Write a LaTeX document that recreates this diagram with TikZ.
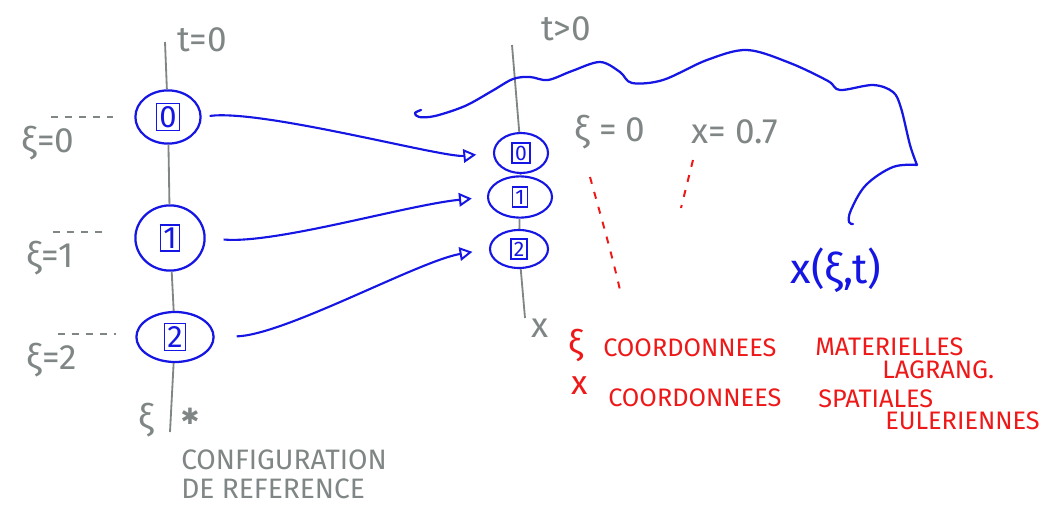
\documentclass[tikz,border=0pt]{standalone}
\usepackage{fontspec}
\setmainfont{Fira Sans}
\newfontfamily\symfont{DejaVu Sans}
\usetikzlibrary{arrows.meta,positioning,shapes.geometric}
\definecolor{SkGray}{RGB}{128,134,134}
\definecolor{SkBlue}{RGB}{22,22,228}
\definecolor{SkRed}{RGB}{238,24,24}
\setlength{\fboxsep}{1.5pt}
\setlength{\fboxrule}{1.2pt}

\begin{document}
\begin{tikzpicture}[x=0.025cm,y=-0.025cm,
    part/.style={ellipse,draw=SkBlue,line width=1.6pt,inner sep=0pt,
                 text=SkBlue,font=\fontsize{22}{22}\selectfont},
    partR/.style={part,line width=1.5pt,font=\fontsize{15}{15}\selectfont},
    axis/.style={draw=SkGray,line width=1.3pt},
    grayt/.style={text=SkGray,font=\fontsize{25}{27}\selectfont,inner sep=0pt},
    redt/.style={text=SkRed,font=\fontsize{18}{20}\selectfont,inner sep=0pt},
    leader/.style={draw=SkGray,line width=1.2pt,dash pattern=on 5pt off 5pt},
    guide/.style={draw=SkRed,line width=1.4pt,dash pattern=on 5pt off 6pt},
    move/.style={draw=SkBlue,line width=1.5pt,
                 -{Triangle[open,length=3.2mm,width=3.4mm,line width=1.4pt]}}]
  \useasboundingbox (0,0) rectangle (1046,506);

  % reference configuration, t=0
  \node[part,minimum width=1.63cm,minimum height=1.33cm] (l0) at (168,117) {\fbox{0}};
  \node[part,minimum width=1.73cm,minimum height=1.63cm] (l1) at (170,238) {\fbox{1}};
  \node[part,minimum width=1.93cm,minimum height=1.25cm] (l2) at (175,337) {\fbox{2}};
  \coordinate (lTop) at (165,42);
  \coordinate (lBot) at (170,432);
  \draw[axis] (lTop) -- (l0) -- (l1) -- (l2) -- (lBot);

  \node[grayt] (t0)  at (202,40)  {t=0};
  \node[grayt] (xi0) at (48,143)  {ξ=0};
  \node[grayt] (xi1) at (50,258)  {ξ=1};
  \node[grayt] (xi2) at (52,360)  {ξ=2};
  \draw[leader] ([xshift=2pt,yshift=6pt]xi0.north) -- ++(62,0);
  \draw[leader] ([xshift=2pt,yshift=6pt]xi1.north) -- ++(55,0);
  \draw[leader] ([xshift=4pt,yshift=6pt]xi2.north) -- ++(58,0);
  \node[grayt] (xiS)  at (146,420) {ξ};
  \node[grayt,font=\symfont\fontsize{16}{16}\selectfont] (star) at (190,416) {✱};
  \node[grayt,anchor=base west,align=left,font=\fontsize{20}{20}\selectfont]
    (conf) at (181,498) {CONFIGURATION\\DE REFERENCE};

  % current configuration, t>0
  \node[partR,minimum width=1.35cm,minimum height=1.0cm]  (r0) at (521,153) {\fbox{0}};
  \node[partR,minimum width=1.6cm,minimum height=1.03cm]  (r1) at (520,197) {\fbox{1}};
  \node[partR,minimum width=1.45cm,minimum height=0.95cm] (r2) at (519,249) {\fbox{2}};
  \coordinate (rTop) at (512,45);
  \coordinate (rBot) at (525,318);
  \draw[axis] (rTop) -- (r0) -- (r1) -- (r2) -- (rBot);

  \node[grayt] (tR)  at (566,29)  {t>0};
  \node[grayt] (xAx) at (540,328) {x};
  \node[grayt] (xiR) at (610,132) {ξ = 0};
  \node[grayt] (xR)  at (735,132) {x= 0.7};
  \draw[guide] (590,177) .. controls (602,220) and (612,255) .. (620,290);
  \draw[guide] (693,160) -- (681,208);

  % motion of the particles
  \draw[move,shorten <=0.2cm,shorten >=0.42cm]
    (l0.east) .. controls +(60,-8) and +(-50,5) .. (r0.west);
  \draw[move,shorten <=0.45cm,shorten >=0.38cm]
    (l1.east) .. controls +(70,6) and +(-80,8) .. (r1.west);
  \draw[move,shorten <=0.55cm,shorten >=0.42cm]
    (l2.east) .. controls +(70,-2) and +(-70,12) .. (r2.west);

  \draw[SkBlue,line width=1.6pt,line cap=round,line join=round]
    plot[smooth,tension=0.55] coordinates {(421,110)(415,113)(419,117)(435,116)(465,106)
      (492,91)(513,79)(530,77)(548,80)(572,71)(600,62)(620,72)(632,83)(663,80)(707,60)
      (747,50)(790,63)(828,81)(840,90)(873,85)(893,92)(901,108)(910,145)(917,165)}
    plot[smooth,tension=0.6] coordinates {(917,165)(893,167)(866,185)(851,210)(849,222)(853,224)};
  \node[text=SkBlue,font=\fontsize{30}{32}\selectfont,inner sep=0pt] (xmap) at (836,270) {x(ξ,t)};

  % legend
  \node[redt,font=\fontsize{24}{24}\selectfont] (kXi) at (576,345) {ξ};
  \node[redt,anchor=west] (cA) at (603,348) {COORDONNEES};
  \node[redt,anchor=west] (mA) at (815,347) {MATERIELLES};
  \node[redt,anchor=west] (lA) at (882,370) {LAGRANG.};
  \node[redt,font=\fontsize{24}{24}\selectfont] (kX) at (580,386) {x};
  \node[redt,anchor=west] (cB) at (608,398) {COORDONNEES};
  \node[redt,anchor=west] (sB) at (818,399) {SPATIALES};
  \node[redt,anchor=west] (eB) at (885,421) {EULERIENNES};
\end{tikzpicture}
\end{document}
